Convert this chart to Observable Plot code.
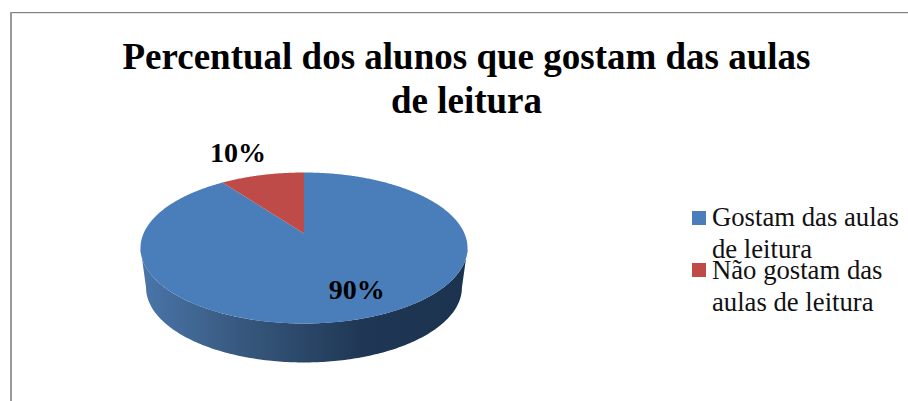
<!DOCTYPE html>
<html lang="pt">
<head>
<meta charset="utf-8">
<script src="https://cdn.jsdelivr.net/npm/d3@7"></script>
<script src="https://cdn.jsdelivr.net/npm/@observablehq/plot@0.6"></script>
<style>
  html,body{margin:0;padding:0;background:#fff;}
  #chart{position:relative;width:908px;height:401px;overflow:hidden;font-family:"Liberation Serif",serif;color:#000;}
  #frameTop{position:absolute;left:10px;top:12px;right:0;height:1px;background:#808080;border-bottom:1px solid #e6e6e6;}
  #frameLeft{position:absolute;left:10px;top:12px;bottom:0;width:2px;background:#9a9a9a;}
  #title{position:absolute;left:0;top:35px;width:933px;text-align:center;font-weight:bold;font-size:37px;line-height:44px;}
  #plot{position:absolute;left:0;top:135px;}
  .sw{position:absolute;left:692px;width:14px;height:14px;}
  .lg{position:absolute;left:712px;font-size:26.7px;line-height:32px;white-space:nowrap;color:#111;}
</style>
</head>
<body>
<div id="chart">
  <div id="frameTop"></div>
  <div id="frameLeft"></div>
  <div id="title">Percentual dos alunos que gostam das aulas<br>de leitura</div>
  <div id="plot"></div>
</div>
<script>
const categories = ["Gostam das aulas de leitura", "Não gostam das aulas de leitura"];
const legendLines = [["Gostam das aulas", "de leitura"], ["Não gostam das", "aulas de leitura"]];
const shares = [90, 10];
const labels = ["90%", "10%"];
const colors = ["#4a7ebb", "#be4b48"];

// Tilted pie: a homography of the unit circle, so the centre sits above the ellipse centre.
const tilt = 0.192;
const wall = {cy: -0.523, rx: 0.966, ry: 0.993};
const deg = Math.PI / 180;
function project(angle) { // degrees clockwise from 12 o'clock; radius 1
  const u = Math.sin(angle * deg), v = Math.cos(angle * deg);
  const w = 1 + tilt * v;
  return {x: u * Math.sqrt(1 - tilt * tilt) / w, y: (v + tilt) / w};
}
const apex = {x: 0, y: tilt};
let acc = 0;
const slices = shares.map((s, i) => {
  const a0 = acc * 3.6, a1 = (acc + s) * 3.6;
  acc += s;
  return {
    category: categories[i], color: colors[i], label: labels[i],
    mid: project((a0 + a1) / 2),
    points: [apex, ...d3.range(a0, a1, 0.5).map(project), project(a1), apex]
  };
});
// bottom rim from left to right, then back along the top rim
const rim = [];
d3.range(180, 360.5, 1).forEach(t => rim.push({x: Math.cos(t * deg) * wall.rx, y: wall.cy + Math.sin(t * deg) * wall.ry}));
d3.range(0, -180.5, -1).forEach(t => rim.push({x: Math.cos(t * deg), y: Math.sin(t * deg)}));

const gradient = () => {
  const svgNS = "http://www.w3.org/2000/svg";
  const defs = document.createElementNS(svgNS, "defs");
  const g = document.createElementNS(svgNS, "linearGradient");
  g.setAttribute("id", "wallFill");
  [["0%", "#4a76aa"], ["30%", "#38597f"], ["68%", "#1f3754"], ["100%", "#1c3350"]].forEach(([o, c]) => {
    const s = document.createElementNS(svgNS, "stop");
    s.setAttribute("offset", o);
    s.setAttribute("stop-color", c);
    g.appendChild(s);
  });
  defs.appendChild(g);
  return defs;
};

const labelOffsets = [[-8, -28], [-24, -22]];
const chart = Plot.plot({
  width: 908,
  height: 266,
  margin: 0,
  style: {background: "transparent", overflow: "visible"},
  x: {axis: null, domain: [-1, 1], range: [140, 467]},
  y: {axis: null, domain: [-1, 1], range: [188, 37]},
  marks: [
    gradient,
    Plot.line(rim, {x: "x", y: "y", fill: "url(#wallFill)", stroke: "none"}),
    ...slices.map(s => Plot.line(s.points, {x: "x", y: "y", fill: s.color, stroke: "none"})),
    ...slices.map((s, i) => Plot.text([s], {
      x: d => d.mid.x, y: d => d.mid.y, text: "label",
      dx: labelOffsets[i][0], dy: labelOffsets[i][1],
      fontFamily: "Liberation Serif", fontWeight: "bold", fontSize: 28, fill: "#000"
    }))
  ]
});
document.getElementById("plot").appendChild(chart);

const root = document.getElementById("chart");
const swatchTops = [211, 263];
const textTops = [201, 254];
legendLines.forEach((lines, i) => {
  const sw = document.createElement("div");
  sw.className = "sw";
  sw.style.top = swatchTops[i] + "px";
  sw.style.background = colors[i];
  root.appendChild(sw);
  const t = document.createElement("div");
  t.className = "lg";
  t.style.top = textTops[i] + "px";
  t.innerHTML = lines.join("<br>");
  root.appendChild(t);
});
</script>
</body>
</html>
